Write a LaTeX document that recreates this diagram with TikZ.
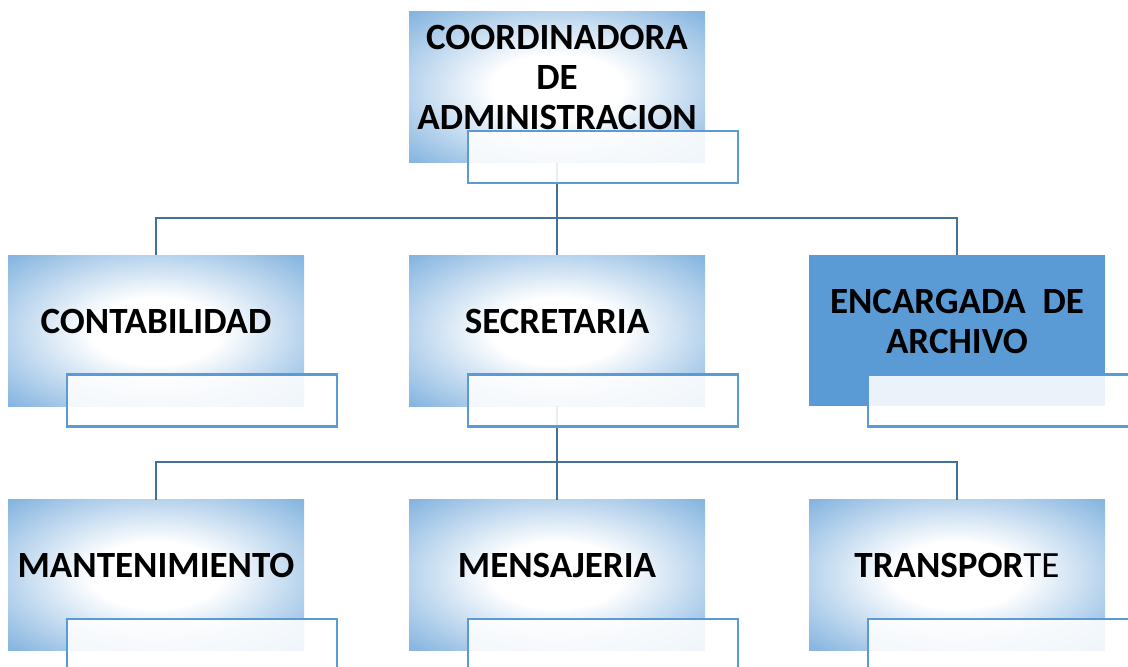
\documentclass[tikz,border=0pt]{standalone}
\usepackage{fontspec}
\setmainfont{Carlito}
\usetikzlibrary{calc}
\definecolor{orgblue}{RGB}{91,155,213}
\definecolor{linkblue}{RGB}{65,113,156}
\pgfdeclareradialshading{glow}{\pgfpoint{0bp}{0bp}}{color(0bp)=(white); color(11bp)=(white); color(36bp)=(orgblue!78); color(50bp)=(orgblue!95); color(70bp)=(orgblue)}

\begin{document}
\begin{tikzpicture}[x=0.5pt, y=-0.5pt, font=\bfseries\fontsize{18.5}{20}\selectfont,
	plainbox/.style={rectangle, minimum width=148pt, minimum height=75.5pt, inner sep=0pt, outer sep=0pt},
	unit/.style={plainbox, shading=glow},
	tagbox/.style={rectangle, anchor=north west, minimum width=135pt, minimum height=26pt, inner sep=0pt, draw=orgblue, line width=1.2pt, fill=white, fill opacity=0.88},
	link/.style={draw=linkblue, line width=1pt},
	boxtext/.style={align=center, yshift=5pt}]
		\clip (0,0) rectangle (1128,667);
		
		% cajas
		\node[unit] (coord) at (557,87.5) {};
		\node[unit] (conta) at (156,331) {};
		\node[unit] (secre) at (557,331) {};
		\node[plainbox, fill=orgblue] (archi) at (957,331) {};
		\node[unit] (mante) at (156,575) {};
		\node[unit] (mensa) at (557,575) {};
		\node[unit] (trans) at (957,575) {};
		
		% lineas
		\coordinate (j1) at ($(coord.south)+(0,55)$);
		\coordinate (j2) at ($(secre.south)+(0,55)$);
		\draw[link] (coord.south) -- (j1);
		\draw[link] (j1) -| (conta.north);
		\draw[link] (j1) -| (archi.north);
		\draw[link] (j1) -- (secre.north);
		\draw[link] (secre.south) -- (j2);
		\draw[link] (j2) -| (mante.north);
		\draw[link] (j2) -| (trans.north);
		\draw[link] (j2) -- (mensa.north);
		
		% textos
		\node[boxtext] (coord-t) at (coord.center) {COORDINADORA\\DE\\ADMINISTRACION};
		\node[boxtext] (conta-t) at (conta.center) {CONTABILIDAD};
		\node[boxtext] (secre-t) at (secre.center) {SECRETARIA};
		\node[boxtext] (archi-t) at (archi.center) {ENCARGADA\ \ DE\\ARCHIVO};
		\node[boxtext] (mante-t) at (mante.center) {MANTENIMIENTO};
		\node[boxtext] (mensa-t) at (mensa.center) {MENSAJERIA};
		\node[boxtext] (trans-t) at (trans.center) {TRANSPOR{\mdseries TE}};
		
		% etiquetas
		\foreach \b in {coord, conta, secre, archi, mante, mensa, trans}
			\node[tagbox] (\b-g) at ($(\b.south west)+(58,-33)$) {};
\end{tikzpicture}
\end{document}
